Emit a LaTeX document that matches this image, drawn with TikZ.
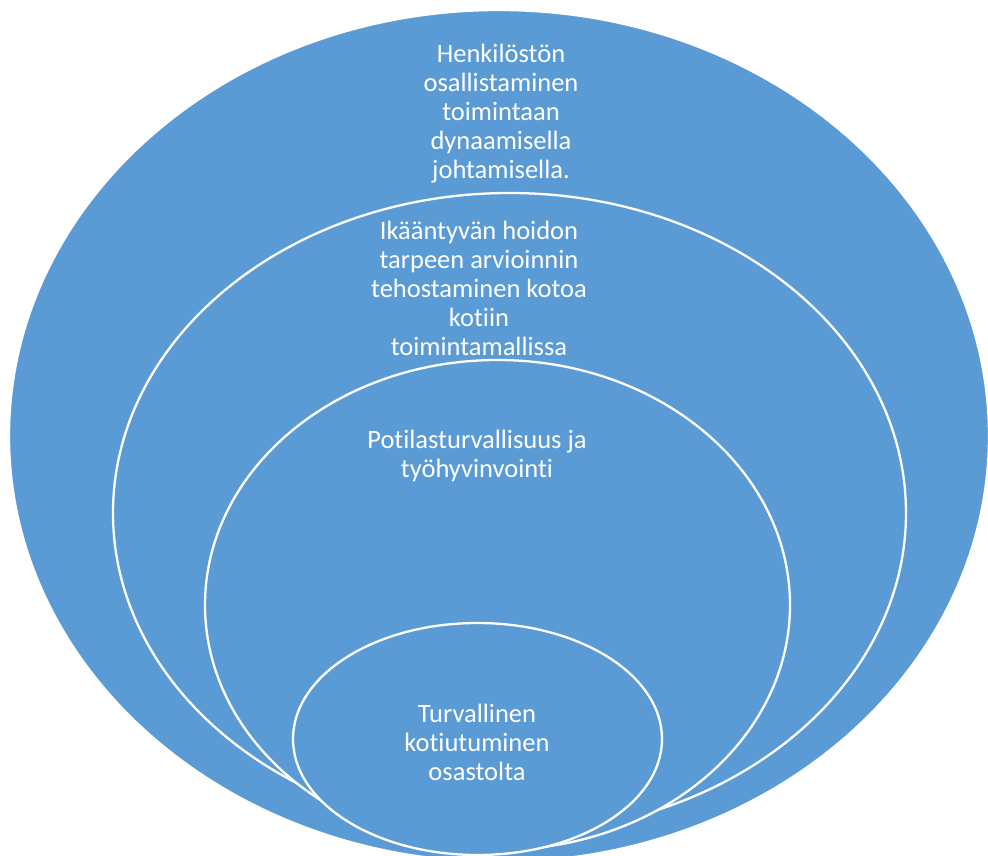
\documentclass[tikz,border=0pt]{standalone}
\usepackage{fontspec}
\setmainfont[Ligatures=NoCommon]{Carlito}
\usetikzlibrary{shapes.geometric}
\definecolor{ringblue}{HTML}{5B9BD5}
\tikzset{
  ring/.style={ellipse, fill=ringblue, draw=white, line width=2.3pt, inner sep=0pt},
  label/.style={text=white, align=center, inner sep=0pt, font=\fontsize{26.5}{29}\selectfont}
}
\begin{document}
\begin{tikzpicture}[x=1pt,y=-1pt]
\useasboundingbox (0,0) rectangle (988,856);
\fill[white] (0,0) rectangle (988,856);
\clip (0,0) rectangle (988,856);
\node[ring, minimum width=980pt, minimum height=852pt] (e1) at (499,436) {};
\node[ring, minimum width=793pt, minimum height=640pt] (e2) at (509.5,513) {};
\node[ring, minimum width=585pt, minimum height=490pt] (e3) at (497.5,605) {};
\node[ring, minimum width=369pt, minimum height=232pt] (e4) at (477.5,739) {};
\node[label] (t1) at (501,114) {Henkilöstön\\osallistaminen\\toimintaan\\dynaamisella\\johtamisella.};
\node[label] (t2) at (479,288) {Ikääntyvän hoidon\\tarpeen arvioinnin\\tehostaminen kotoa\\kotiin\\toimintamallissa};
\node[label] (t3) at (477,456) {Potilasturvallisuus ja\\työhyvinvointi};
\node[label] (t4) at (477,742) {Turvallinen\\kotiutuminen\\osastolta};
\end{tikzpicture}
\end{document}
